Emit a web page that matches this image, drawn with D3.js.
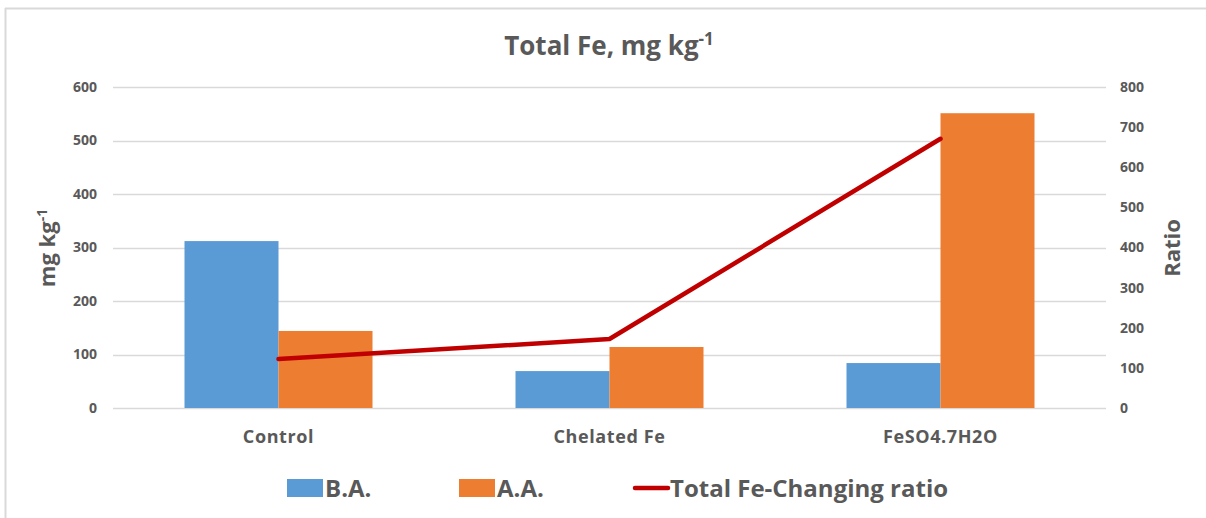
<!DOCTYPE html>
<html><head><meta charset="utf-8">
<script src="https://cdn.jsdelivr.net/npm/d3@7"></script>
<style>
body{margin:0;background:#fff;}
svg{display:block;}
text{font-family:"Open Sans",Lato,sans-serif;fill:#595959;}
</style></head>
<body>
<script>
const categories = ["Control", "Chelated Fe", "FeSO4.7H2O"];
const seriesNames = ["B.A.", "A.A."];
const baValues = [312, 69, 84];
const aaValues = [144, 114, 551];
const ratioValues = [122, 172, 671];
const leftTicks = [0, 100, 200, 300, 400, 500, 600];
const rightTicks = [0, 100, 200, 300, 400, 500, 600, 700, 800];
const lineName = "Total Fe-Changing ratio";

const W = 1206, H = 518;
const colors = {"B.A.": "#5b9bd5", "A.A.": "#ed7d31"};
const lineColor = "#c00000";

const svg = d3.select("body").append("svg").attr("width", W).attr("height", H);

// border (top & left)
svg.append("line").attr("x1", 5).attr("x2", W).attr("y1", 8.5).attr("y2", 8.5).attr("stroke", "#d9d9d9").attr("stroke-width", 2);
svg.append("line").attr("x1", 5.5).attr("x2", 5.5).attr("y1", 8).attr("y2", H).attr("stroke", "#d9d9d9").attr("stroke-width", 2);

const plot = {left: 113, right: 1106, top: 87, bottom: 408};

const x = d3.scaleBand().domain(categories).range([plot.left, plot.right]).paddingInner(0).paddingOuter(0);
const groupFrac = 0.568;
const xs = d3.scaleBand().domain(seriesNames).range([0, x.bandwidth() * groupFrac]);
const yL = d3.scaleLinear().domain([0, 600]).range([plot.bottom, plot.top]);
const yR = d3.scaleLinear().domain([0, 800]).range([plot.bottom, plot.top]);

// gridlines
svg.append("g").selectAll("line").data(leftTicks).join("line")
  .attr("x1", plot.left).attr("x2", plot.right)
  .attr("y1", d => Math.round(yL(d)) + 0.5).attr("y2", d => Math.round(yL(d)) + 0.5)
  .attr("stroke", "#d9d9d9").attr("stroke-width", 1.3);

// left tick labels
svg.append("g").selectAll("text").data(leftTicks).join("text")
  .attr("x", 97).attr("y", d => yL(d)).attr("dy", "0.35em")
  .attr("text-anchor", "end").attr("font-size", 14).attr("font-weight", "bold")
  .text(d => d);

// right tick labels
svg.append("g").selectAll("text").data(rightTicks).join("text")
  .attr("x", 1120).attr("y", d => yR(d)).attr("dy", "0.35em")
  .attr("text-anchor", "start").attr("font-size", 14).attr("font-weight", "bold")
  .text(d => d);

// bars
const data = categories.map((c, i) => ({cat: c, vals: [{s: "B.A.", v: baValues[i]}, {s: "A.A.", v: aaValues[i]}]}));
const g = svg.append("g").selectAll("g").data(data).join("g")
  .attr("transform", d => `translate(${x(d.cat) + x.bandwidth() * (1 - groupFrac) / 2},0)`);
g.selectAll("rect").data(d => d.vals).join("rect")
  .attr("x", d => xs(d.s)).attr("width", xs.bandwidth())
  .attr("y", d => yL(d.v)).attr("height", d => yL(0) - yL(d.v))
  .attr("fill", d => colors[d.s]);

// line
const line = d3.line().x((d, i) => x(categories[i]) + x.bandwidth() / 2).y(d => yR(d));
svg.append("path").datum(ratioValues).attr("d", line)
  .attr("fill", "none").attr("stroke", lineColor).attr("stroke-width", 4.5)
  .attr("stroke-linejoin", "round").attr("stroke-linecap", "round");

// category labels
svg.append("g").selectAll("text").data(categories).join("text")
  .attr("x", d => x(d) + x.bandwidth() / 2).attr("y", 443)
  .attr("text-anchor", "middle").attr("font-size", 18).attr("font-weight", "bold")
  .attr("letter-spacing", 0.6)
  .text(d => d);

// title
const title = svg.append("text").attr("x", 609).attr("y", 55).attr("text-anchor", "middle")
  .attr("font-size", 26).attr("font-weight", "bold");
title.append("tspan").text("Total Fe, mg kg");
title.append("tspan").attr("font-size", 17).attr("dy", -10).text("-1");

// left axis title
const lt = svg.append("text").attr("transform", "translate(55,248) rotate(-90)")
  .attr("text-anchor", "middle").attr("font-size", 22).attr("font-weight", "bold");
lt.append("tspan").text("mg kg");
lt.append("tspan").attr("font-size", 14).attr("dy", -8).text("-1");

// right axis title
svg.append("text").attr("transform", "translate(1180,248) rotate(-90)")
  .attr("text-anchor", "middle").attr("font-size", 22).attr("font-weight", "bold")
  .text("Ratio");

// legend
const lg = svg.append("g");
const legendItems = [
  {type: "rect", name: "B.A.", x: 287},
  {type: "rect", name: "A.A.", x: 459},
  {type: "line", name: lineName, x: 632}
];
legendItems.forEach(it => {
  if (it.type === "rect") {
    lg.append("rect").attr("x", it.x).attr("y", 479).attr("width", 36).attr("height", 18).attr("fill", colors[it.name]);
  } else {
    lg.append("line").attr("x1", it.x + 3).attr("x2", it.x + 36).attr("y1", 488).attr("y2", 488)
      .attr("stroke", lineColor).attr("stroke-width", 4.5).attr("stroke-linecap", "round");
  }
  lg.append("text").attr("x", it.x + 38).attr("y", 497).attr("font-size", 24).attr("font-weight", "bold")
    .text(it.name);
});
</script>
</body></html>
